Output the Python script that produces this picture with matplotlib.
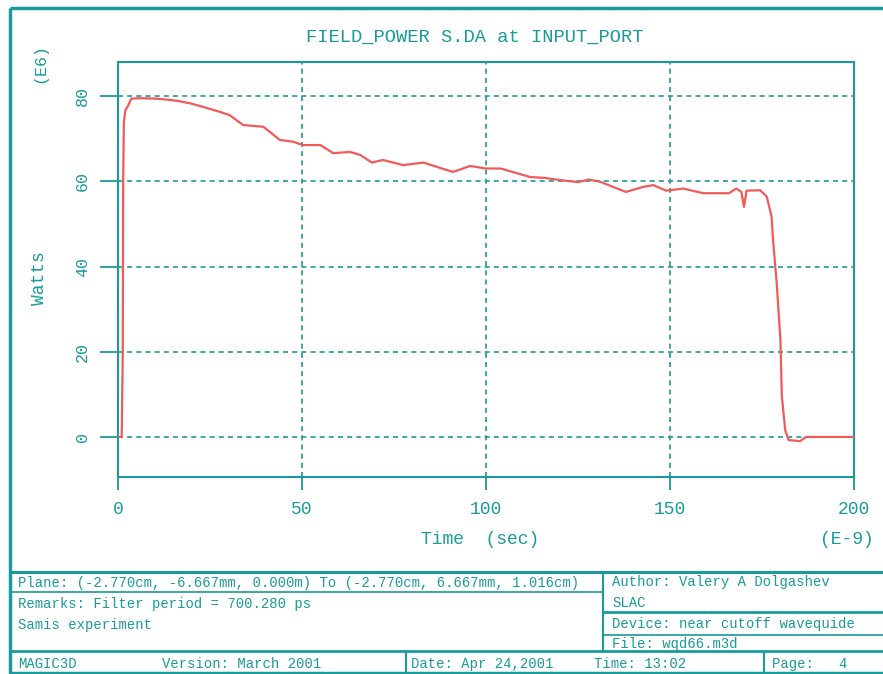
import matplotlib
matplotlib.use('Agg')
import matplotlib.pyplot as plt

# datos (tiempo en ns, potencia en MW)
time_ns = [0, 1.0, 1.3, 1.4, 1.6, 2.0, 2.6, 3.6, 6, 10.5, 13, 16, 19.6, 23, 27.7,
           30.4, 34, 39.5, 44, 47.6, 50.3, 55, 58.5, 63, 65.8, 69, 72, 77.5,
           83, 86.6, 91, 95.7, 100, 104, 108, 112, 116, 120, 125, 128, 131,
           138, 142.8, 145.5, 149, 153.6, 159, 166, 168, 169.4, 170.1, 170.8,
           174.5, 176.3, 177.6, 178, 179, 180, 180.4, 181.3, 182.2, 185.3,
           187, 200]
power_mw = [0, 0, 20, 60, 74, 76.7, 77.5, 79.4, 79.5, 79.4, 79.2, 78.9, 78.3,
            77.5, 76.3, 75.5, 73.2, 72.8, 69.7, 69.3, 68.5, 68.5, 66.6, 66.9,
            66.2, 64.4, 65.0, 63.8, 64.4, 63.4, 62.2, 63.6, 63.0, 63.0, 62.0,
            61.0, 60.8, 60.3, 59.8, 60.4, 59.9, 57.5, 58.7, 59.1, 57.8, 58.3,
            57.2, 57.2, 58.3, 57.5, 54.0, 57.8, 57.9, 56.4, 51.7, 46.2, 36.1,
            22.8, 9.5, 1.6, -0.7, -1.0, 0, 0]

x_ticks = [0, 50, 100, 150, 200]
y_ticks = [0, 20, 40, 60, 80]

teal = '#1a9a9a'
red = '#f05a5a'
mono = 'Liberation Mono'

W, H = 883, 674
fig = plt.figure(figsize=(W / 100, H / 100), dpi=100)

# zona del grafico (en pixeles: x 118-854, y 62-477)
ax = fig.add_axes([118 / W, 1 - 477 / H, (854 - 118) / W, (477 - 62) / H])
ax.plot(time_ns, power_mw, color=red, linewidth=1.6, zorder=3)
ax.set_xlim(0, 200)
ax.set_ylim(-9.4, 88)
ax.set_xticks(x_ticks)
ax.set_yticks(y_ticks)
ax.set_xticklabels([str(v) for v in x_ticks], fontfamily=mono, fontsize=13, color=teal)
ax.set_yticklabels([str(v) for v in y_ticks], fontfamily=mono, fontsize=12, color=teal,
                   rotation=90, va='center')
ax.tick_params(axis='y', direction='out', length=13, width=1.3, color=teal, pad=7)
ax.tick_params(axis='x', direction='out', length=9, width=1.3, color=teal, pad=8)
for s in ax.spines.values():
    s.set_color(teal)
    s.set_linewidth(1.5)
ax.grid(True, color=teal, linestyle=(0, (3, 2.5)), linewidth=1.2)
ax.set_axisbelow(True)

# capa de anotaciones en coordenadas de pixel
ov = fig.add_axes([0, 0, 1, 1], zorder=-1)
ov.set_xlim(0, W)
ov.set_ylim(H, 0)
ov.axis('off')

def line(x0, y0, x1, y1, lw=1.5):
    ov.plot([x0, x1], [y0, y1], color=teal, linewidth=lw, solid_capstyle='butt')

def txt(x, y, s, size=10, **kw):
    ov.text(x, y, s, fontfamily=mono, fontsize=size, color=teal, va='center', **kw)

# marco exterior (el borde derecho queda fuera de la imagen)
line(10, 8, 883, 8, 2.5)
line(10, 8, 10, 674, 2.5)
line(10, 673, 883, 673, 2.5)

# tabla inferior
line(10, 572, 883, 572, 2.2)
line(10, 592, 603, 592, 1.2)
line(603, 572, 603, 651, 1.5)
line(603, 612, 883, 612, 2.0)
line(603, 635, 883, 635, 1.2)
line(10, 651, 883, 651, 2.0)
line(406, 651, 406, 674, 1.5)
line(764, 651, 764, 674, 1.5)

txt(475, 37, 'FIELD_POWER S.DA at INPUT_PORT', size=13.5, ha='center')
txt(40, 63, '(E6)', size=12, ha='center', rotation=90)
txt(40, 278, 'Watts', size=13, ha='center', rotation=90)
txt(480, 540, 'Time  (sec)', size=13, ha='center')
txt(874, 540, '(E-9)', size=13, ha='right')

txt(18, 583, 'Plane: (-2.770cm, -6.667mm, 0.000m) To (-2.770cm, 6.667mm, 1.016cm)')
txt(18, 604, 'Remarks: Filter period = 700.280 ps')
txt(18, 625, 'Samis experiment')
txt(612, 582, 'Author: Valery A Dolgashev')
txt(612, 603, 'SLAC')
txt(612, 624, 'Device: near cutoff wavequide')
txt(612, 644, 'File: wqd66.m3d')
txt(18, 664, 'MAGIC3D')
txt(162, 664, 'Version: March 2001')
txt(411, 664, 'Date: Apr 24,2001')
txt(594, 664, 'Time: 13:02')
txt(772, 664, 'Page:   4')

fig.savefig('out.png', dpi=100)
